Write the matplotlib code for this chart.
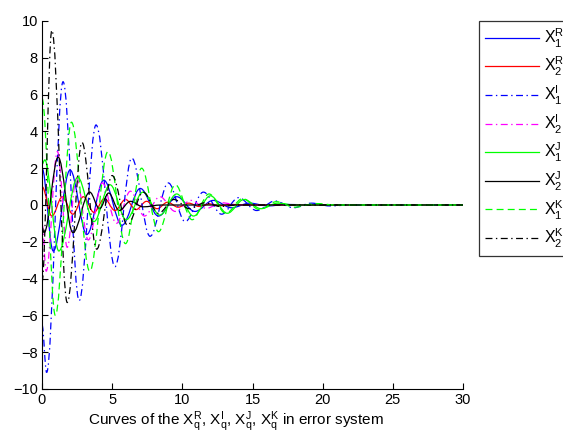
import matplotlib
matplotlib.use("Agg")
import matplotlib.pyplot as plt
from matplotlib.path import Path
from matplotlib.patches import PathPatch
from matplotlib.lines import Line2D

plt.rcParams['font.family'] = ['Liberation Sans', 'DejaVu Sans']
plt.rcParams['mathtext.fontset'] = 'custom'
plt.rcParams['mathtext.rm'] = 'Liberation Sans'
plt.rcParams['mathtext.it'] = 'Liberation Sans'
plt.rcParams['lines.scale_dashes'] = False

# ---- data: extrema (time, value) ----
x1r_t = [0, 0.8, 2.0, 3.2, 4.4, 5.7, 7.0, 8.3, 9.6, 10.9, 12.2, 13.5, 14.8, 16.1, 17.4, 20, 30]
x1r_y = [2.0, -2.5, 1.9, -1.6, 1.35, -1.1, 0.9, -0.6, 0.45, -0.35, 0.25, -0.15, 0.1, -0.05, 0.03, 0, 0]

x2r_t = [0, 0.7, 1.45, 2.2, 2.95, 3.7, 4.45, 5.2, 5.95, 6.7, 7.45, 8.2, 8.95, 9.7, 10.45, 11.2, 11.95, 12.7, 13.45, 15, 30]
x2r_y = [1.0, -0.6, 0.45, -0.5, 0.45, -0.4, 0.35, -0.3, 0.3, -0.25, 0.2, -0.2, 0.15, -0.12, 0.1, -0.08, 0.06, -0.04, 0.03, 0, 0]

x1i_t = [0, 0.33, 1.5, 2.65, 3.85, 5.2, 6.4, 7.7, 9.0, 10.2, 11.5, 12.8, 14.0, 15.3, 16.6, 17.9, 19.2, 20.5, 22, 30]
x1i_y = [-6.5, -9.1, 6.7, -5.2, 4.35, -3.35, 2.55, -1.7, 1.2, -0.9, 0.7, -0.5, 0.4, -0.3, 0.22, -0.15, 0.1, -0.05, 0, 0]

x2i_t = [0, 0.3, 1.1, 1.8, 2.45, 3.3, 4.3, 5.3, 6.3, 7.3, 8.4, 9.5, 10.6, 11.7, 12.8, 14, 30]
x2i_y = [-1.0, -3.6, 2.9, -2.3, 1.5, -1.9, 1.2, -1.0, 0.75, -0.6, 0.45, -0.35, 0.25, -0.18, 0.12, 0, 0]

x1j_t = [0, 0.2, 1.2, 2.55, 3.7, 4.85, 6.0, 7.2, 8.4, 9.6, 10.8, 12.0, 13.2, 14.4, 15.6, 16.8, 18, 30]
x1j_y = [2.2, 2.45, -2.5, 1.5, -0.9, 1.1, -0.8, 0.7, -0.55, 0.6, -0.6, 0.5, -0.45, 0.3, -0.2, 0.1, 0, 0]

x2j_t = [0, 0.15, 1.15, 2.2, 3.4, 4.1, 4.75, 5.5, 6.3, 7.2, 8.5, 30]
x2j_y = [-1.2, -1.5, 2.6, -1.5, 0.7, -0.2, 0.65, -0.3, 0.2, -0.1, 0, 0]

x1k_t = [0, 0.95, 2.1, 3.4, 4.7, 5.95, 7.1, 8.3, 9.5, 10.7, 11.9, 13.1, 14.3, 15.5, 16.7, 18, 19.5, 21, 30]
x1k_y = [5.8, -6.0, 4.5, -3.6, 2.9, -2.1, 2.0, -1.45, 1.1, -0.8, 0.6, -0.45, 0.35, -0.25, 0.18, -0.12, 0.08, 0, 0]

x2k_t = [0, 0.7, 1.8, 2.85, 3.9, 5.0, 6.1, 7.2, 8.3, 9.4, 10.5, 11.6, 12.7, 14, 30]
x2k_y = [-4.2, 9.5, -5.3, 3.4, -2.4, 1.6, -1.1, 0.7, -0.45, 0.3, -0.2, 0.12, -0.08, 0, 0]

labels = [r'$\mathrm{X}_1^\mathrm{R}$', r'$\mathrm{X}_2^\mathrm{R}$',
          r'$\mathrm{X}_1^\mathrm{I}$', r'$\mathrm{X}_2^\mathrm{I}$',
          r'$\mathrm{X}_1^\mathrm{J}$', r'$\mathrm{X}_2^\mathrm{J}$',
          r'$\mathrm{X}_1^\mathrm{K}$', r'$\mathrm{X}_2^\mathrm{K}$']

DASHDOT = (0, (5, 2.5, 1, 2.5))
DASHED = (0, (5, 3))

series = [
    (x1r_t, x1r_y, (0, 0, 1), '-'),
    (x2r_t, x2r_y, (1, 0, 0), '-'),
    (x1i_t, x1i_y, (0, 0, 1), DASHDOT),
    (x2i_t, x2i_y, (1, 0, 1), DASHDOT),
    (x1j_t, x1j_y, (0, 1, 0), '-'),
    (x2j_t, x2j_y, (0, 0, 0), '-'),
    (x1k_t, x1k_y, (0, 1, 0), DASHED),
    (x2k_t, x2k_y, (0, 0, 0), DASHDOT),
]


def smooth_path(ts, ys, k=0.36):
    verts = [(ts[0], ys[0])]
    codes = [Path.MOVETO]
    for i in range(len(ts) - 1):
        dt = ts[i + 1] - ts[i]
        verts += [(ts[i] + k * dt, ys[i]), (ts[i + 1] - k * dt, ys[i + 1]),
                  (ts[i + 1], ys[i + 1])]
        codes += [Path.CURVE4] * 3
    return Path(verts, codes)


fig = plt.figure(figsize=(5.63, 4.34), dpi=100)
ax = fig.add_axes([42 / 563, 45 / 434, 421 / 563, 368 / 434])

handles = []
for (ts, ys, c, ls), lab in zip(series, labels):
    patch = PathPatch(smooth_path(ts, ys), fill=False, edgecolor=c,
                      linestyle=ls, lw=0.9)
    ax.add_patch(patch)
    handles.append(Line2D([], [], color=c, linestyle=ls, lw=0.9))

ax.set_xlim(0, 30)
ax.set_ylim(-10, 10)
ax.set_xticks(range(0, 31, 5))
ax.set_yticks(range(-10, 11, 2))
ax.set_yticklabels(['\u2212' + str(-v) if v < 0 else str(v) for v in range(-10, 11, 2)])
ax.tick_params(direction='in', length=4, labelsize=10.5, width=0.8, pad=3)
ax.spines['top'].set_visible(False)
ax.spines['right'].set_visible(False)
ax.set_xlabel(r'Curves of the $\mathrm{X}_q^\mathrm{R}$, $\mathrm{X}_q^\mathrm{I}$, '
              r'$\mathrm{X}_q^\mathrm{J}$, $\mathrm{X}_q^\mathrm{K}$ in error system',
              fontsize=11, labelpad=1)
ax.xaxis.set_label_coords(0.46, -0.055)

leg = ax.legend(handles, labels, loc='upper left', bbox_to_anchor=(1.038, 1.0),
                fontsize=11.5, frameon=True, fancybox=False, edgecolor='black',
                handlelength=3.4, labelspacing=0.34, borderaxespad=0,
                handletextpad=0.3, borderpad=0.35)
leg.get_frame().set_linewidth(0.9)

fig.savefig('out.png', dpi=100)
